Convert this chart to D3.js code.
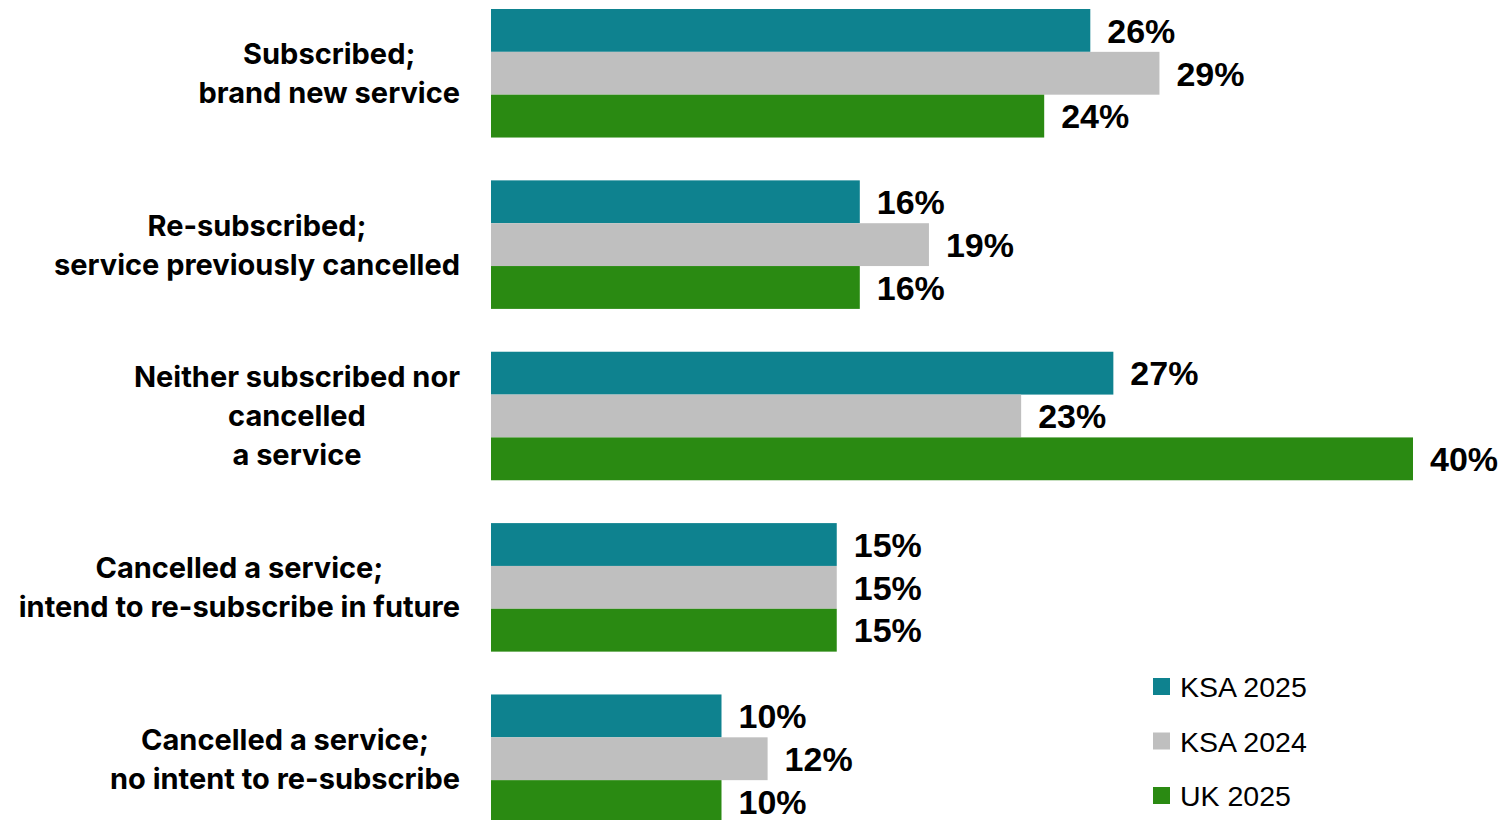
<!DOCTYPE html>
<html>
<head>
<meta charset="utf-8">
<script src="https://cdn.jsdelivr.net/npm/d3@7"></script>
<style>
  html, body { margin: 0; padding: 0; background: #ffffff; }
  svg { display: block; }
</style>
</head>
<body>
<svg id="chart" width="1499" height="820"></svg>
<script>
// Survey categories (each label broken into display lines)
const categories = [
  ["Subscribed;", "brand new service"],
  ["Re-subscribed;", "service previously cancelled"],
  ["Neither subscribed nor", "cancelled", "a service"],
  ["Cancelled a service;", "intend to re-subscribe in future"],
  ["Cancelled a service;", "no intent to re-subscribe"]
];
const seriesNames = ["KSA 2025", "KSA 2024", "UK 2025"];
const ksa2025 = [26, 16, 27, 15, 10];
const ksa2024 = [29, 19, 23, 15, 12];
const uk2025  = [24, 16, 40, 15, 10];
const seriesColors = ["#0e828f", "#bfbfbf", "#2a8a12"];

const seriesValues = [ksa2025, ksa2024, uk2025];
const rows = categories.map((c, i) => ({
  key: i,
  lines: c,
  values: seriesNames.map((s, j) => ({ series: s, value: seriesValues[j][i] }))
}));

const svg = d3.select("#chart");

const x = d3.scaleLinear().domain([0, 40]).range([491, 491 + 40 * 23.05]);
const y = d3.scaleBand().domain(rows.map(r => r.key)).range([9, 823]).paddingInner(0.25).paddingOuter(0);
const ySub = d3.scaleBand().domain(seriesNames).range([0, y.bandwidth()]).padding(0);
const color = d3.scaleOrdinal().domain(seriesNames).range(seriesColors);

const groups = svg.selectAll("g.group").data(rows).join("g")
  .attr("class", "group")
  .attr("transform", d => `translate(0,${y(d.key)})`);

groups.selectAll("rect").data(d => d.values).join("rect")
  .attr("x", x(0))
  .attr("y", d => ySub(d.series))
  .attr("width", d => x(d.value) - x(0))
  .attr("height", ySub.bandwidth())
  .attr("fill", d => color(d.series));

groups.selectAll("text.val").data(d => d.values).join("text")
  .attr("class", "val")
  .attr("x", d => x(d.value) + 17)
  .attr("y", d => ySub(d.series) + ySub.bandwidth() / 2)
  .attr("dy", "0.36em")
  .attr("font-family", "'Liberation Sans', Arial, sans-serif")
  .attr("font-weight", 700)
  .attr("font-size", 34)
  .attr("fill", "#000")
  .text(d => d.value + "%");

// Category labels: lines centred on each other, block right-aligned at x=460
const lineGap = 39;
const labelRight = 460;
groups.each(function(d) {
  const g = d3.select(this);
  const lab = g.append("text")
    .attr("font-family", "Inter, 'Open Sans', sans-serif")
    .attr("font-weight", 700)
    .attr("font-size", 29)
    .attr("fill", "#000");
  const n = d.lines.length;
  const tspans = lab.selectAll("tspan").data(d.lines).join("tspan")
    .attr("y", (l, i) => y.bandwidth() / 2 + (i - (n - 1) / 2) * lineGap)
    .attr("dy", "0.36em")
    .attr("text-anchor", "middle")
    .text(l => l);
  let maxW = 0;
  tspans.each(function() { maxW = Math.max(maxW, this.getComputedTextLength()); });
  tspans.attr("x", labelRight - maxW / 2);
});

// Legend
const legend = svg.append("g").selectAll("g").data(seriesNames).join("g")
  .attr("transform", (d, i) => `translate(1153,${687 + i * 54.5})`);
legend.append("rect")
  .attr("x", 0).attr("y", -9).attr("width", 17).attr("height", 17)
  .attr("fill", d => color(d));
legend.append("text")
  .attr("x", 27).attr("y", 0).attr("dy", "0.36em")
  .attr("font-family", "'Liberation Sans', Arial, sans-serif")
  .attr("font-size", 28.5)
  .attr("fill", "#000")
  .text(d => d);
</script>
</body>
</html>
